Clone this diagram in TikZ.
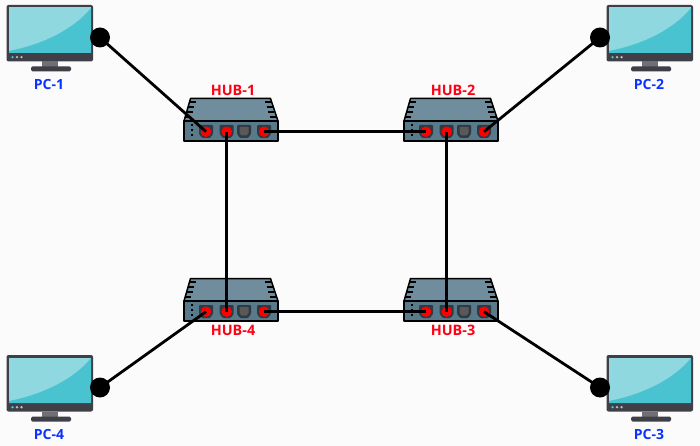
\documentclass[tikz,border=0pt]{standalone}
\usepackage{fontspec}
\setmainfont{Open Sans}
\definecolor{frameC}{HTML}{3F3F47}
\definecolor{lightS}{HTML}{8FD8E0}
\definecolor{darkS}{HTML}{4AC3D0}
\definecolor{hubTop}{HTML}{6F8D9C}
\definecolor{hubFront}{HTML}{587A8A}
\definecolor{portC}{HTML}{2F3A42}
\definecolor{pcblue}{HTML}{0A32FF}
\definecolor{hubred}{HTML}{FF0014}
\tikzset{
  wire/.style={line width=2.8pt,black},
  pcdot/.style={circle,fill=black,inner sep=0pt,minimum size=20pt},
  portdot/.style={circle,fill=red,inner sep=0pt,minimum size=10.5pt},
  pclabel/.style={text=pcblue,font=\bfseries\fontsize{14}{14}\selectfont,inner sep=0pt},
  hublabel/.style={text=hubred,font=\bfseries\fontsize{14.4}{14}\selectfont,inner sep=0pt},
  pics/monitor/.style={code={
    \fill[frameC,rounded corners=2pt] (6.5,5) rectangle (93,61.5);
    \fill[lightS] (9,7.5) rectangle (91,53);
    \fill[darkS] (9,53) -- (9,51) .. controls (45,44) and (75,28) .. (91,8) -- (91,53) -- cycle;
    \fill[frameC!75] (42,61.5) rectangle (58,67);
    \fill[frameC,rounded corners=1.5pt] (31,66.5) rectangle (71,71.5);
    \fill[darkS] (12.5,57.2) circle (1.3);
    \fill[white!75!black] (17,57.2) circle (1.3);
    \fill[white!75!black] (21.5,57.2) circle (1.3);
  }},
  pics/hub/.style={code={
    \fill[hubTop,draw=black,line width=1.5pt,line join=round] (190.5,98.5) -- (270.5,98.5) -- (278,121) -- (184,121) -- cycle;
    \fill[hubFront,draw=black,line width=1.5pt,line join=round] (184,121) rectangle (278,141);
    \foreach \yy/\dd in {102/0,107/1.6,112/3.2,117/4.8}{
      \draw[black,line width=1.3pt] (190-\dd,\yy) -- (196-\dd,\yy);
      \draw[black,line width=1.3pt] (265+\dd,\yy) -- (271+\dd,\yy);
    }
    \foreach \yy in {125,130,135}{\draw[black,line width=1.2pt] (191,\yy) -- (193,\yy);}
    \foreach \xx in {206,226.7,244,264}{
      \fill[portC,rounded corners=1pt] (\xx-7,125) -- (\xx+7,125) -- (\xx+7,134) -- (\xx+4,138) -- (\xx-4,138) -- (\xx-7,134) -- cycle;
    }
    \fill[black!65] (239.5,127) -- (248.5,127) -- (248.5,133) -- (246.5,135.5) -- (241.5,135.5) -- (239.5,133) -- cycle;
    \node[portdot] (-p1) at (206,131.7) {};
    \node[portdot] (-p2) at (226.7,131.7) {};
    \node[portdot] (-p4) at (264,131.7) {};
    \coordinate (-p3) at (244,131.7);
  }}
}
\begin{document}
\begin{tikzpicture}[x=1pt,y=-1pt]
\path[use as bounding box,fill=black!1.5] (0,0) rectangle (700,446);
\pic at (0,0) {monitor};
\pic at (600,0) {monitor};
\pic at (0,350) {monitor};
\pic at (600,350) {monitor};
\pic (h1) at (0,0) {hub};
\pic (h2) at (220,0) {hub};
\pic (h4) at (0,180) {hub};
\pic (h3) at (220,180) {hub};
\node[pcdot] (d1) at (100,37.5) {};
\node[pcdot] (d2) at (600,37.5) {};
\node[pcdot] (d4) at (100,387.5) {};
\node[pcdot] (d3) at (600,387.5) {};
\draw[wire] (d1.center) -- (h1-p1.center);
\draw[wire] (d2.center) -- (h2-p4.center);
\draw[wire] (d4.center) -- (h4-p1.center);
\draw[wire] (d3.center) -- (h3-p4.center);
\draw[wire] (h1-p4.center) -- (h2-p1.center);
\draw[wire] (h4-p4.center) -- (h3-p1.center);
\draw[wire] (h1-p2.center) -- (h4-p2.center);
\draw[wire] (h2-p2.center) -- (h3-p2.center);
\node[pclabel] (l1) at (49,84.5) {PC-1};
\node[pclabel] (l2) at (649,84.5) {PC-2};
\node[pclabel] (l4) at (49,434.5) {PC-4};
\node[pclabel] (l3) at (649,434.5) {PC-3};
\node[hublabel] (t1) at (233,90) {HUB-1};
\node[hublabel] (t2) at (453,90) {HUB-2};
\node[hublabel] (t4) at (233,330) {HUB-4};
\node[hublabel] (t3) at (453,330) {HUB-3};
\end{tikzpicture}
\end{document}
